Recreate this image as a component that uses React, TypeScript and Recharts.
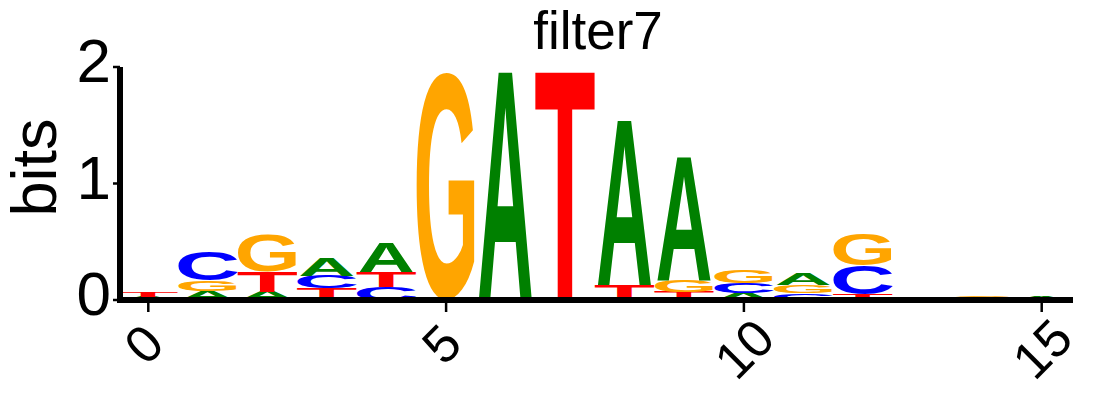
import React from 'react';
import { BarChart, Bar, XAxis, YAxis } from 'recharts';

// ---- data (information content in bits per letter, per position) ----
const positions = [0, 1, 2, 3, 4, 5, 6, 7, 8, 9, 10, 11, 12, 13, 14, 15];
const A_bits = [0.03, 0.08, 0.07, 0.155, 0.25, 0, 1.95, 0, 1.4, 1.05, 0.06, 0.1, 0, 0, 0, 0.03];
const C_bits = [0, 0.25, 0, 0.11, 0.11, 0, 0, 0, 0, 0, 0.086, 0.06, 0.25, 0, 0, 0];
const G_bits = [0, 0.085, 0.32, 0, 0, 1.95, 0, 0, 0, 0.1, 0.11, 0.07, 0.275, 0, 0.035, 0];
const T_bits = [0.04, 0, 0.17, 0.1, 0.13, 0, 0, 1.95, 0.13, 0.07, 0, 0, 0.05, 0, 0, 0];
const xTicks = [0, 5, 10, 15];
const yTicks = [0, 1, 2];
const title = 'filter7';
const yLabel = 'bits';

const LETTERS = ['A', 'C', 'G', 'T'];
const SERIES: Record<string, number[]> = { A: A_bits, C: C_bits, G: G_bits, T: T_bits };
const COLORS: Record<string, string> = { A: '#008000', C: '#0000FF', G: '#FFA500', T: '#FF0000' };

// approximate glyph ink boxes (Liberation Sans Bold, 2048 units/em)
const METRICS: Record<string, { xMin: number; xMax: number; yMin: number; yMax: number }> = {
  A: { xMin: 0, xMax: 1479, yMin: 0, yMax: 1409 },
  C: { xMin: 100, xMax: 1387, yMin: -22, yMax: 1431 },
  G: { xMin: 100, xMax: 1470, yMin: -22, yMax: 1431 },
  T: { xMin: 45, xMax: 1206, yMin: 0, yMax: 1409 },
};

// stack letters smallest at bottom
const rows = positions.map((p, i) => {
  const items = LETTERS.map((L) => ({ L, v: SERIES[L][i] })).sort((a, b) => a.v - b.v);
  const row: Record<string, any> = { pos: p };
  items.forEach((it, r) => {
    row['h' + r] = it.v;
    row['l' + r] = it.L;
  });
  return row;
});

const FONT = '"Liberation Sans", Arial, Helvetica, sans-serif';

function Letter(props: any) {
  const { x, y, width, height, letter } = props;
  if (!letter || !(height > 0.2) || !(width > 0)) return null;
  const m = METRICS[letter];
  const F = 100;
  const u = F / 2048;
  const inkW = (m.xMax - m.xMin) * u;
  const inkH = (m.yMax - m.yMin) * u;
  const sx = width / inkW;
  const sy = height / inkH;
  return (
    <g transform={`translate(${x},${y + height}) scale(${sx},${sy})`}>
      <text
        x={-m.xMin * u}
        y={m.yMin * u}
        fontSize={F}
        fontFamily={FONT}
        fontWeight="bold"
        fill={COLORS[letter]}
      >
        {letter}
      </text>
    </g>
  );
}

function XTick(props: any) {
  const { x, y, payload } = props;
  const label = String(payload.value);
  const cx = x + (label.length === 1 ? -5 : 0);
  const cy = y + (label.length === 1 ? 31.5 : 36.5);
  return (
    <text
      transform={`translate(${cx},${cy}) rotate(-45)`}
      textAnchor="middle"
      dy="0.358em"
      fontSize={52}
      fontFamily={FONT}
      fill="#000"
    >
      {label}
    </text>
  );
}

function YTick(props: any) {
  const { y, payload } = props;
  return (
    <text x={111} y={y + 15} textAnchor="end" fontSize={62} fontFamily={FONT} fill="#000">
      {String(payload.value)}
    </text>
  );
}

export default function App() {
  return (
    <div style={{ position: 'absolute', left: 0, top: 0, width: 1094, height: 408, background: '#fff' }}>
      <BarChart
        width={1094}
        height={408}
        data={rows}
        margin={{ top: 67, right: 24, bottom: 0, left: 0 }}
        barCategoryGap={0}
      >
        <XAxis
          type="number"
          dataKey="pos"
          domain={[-0.475, 15.475]}
          ticks={xTicks}
          allowDataOverflow
          interval={0}
          height={108}
          tickSize={12}
          tickMargin={0}
          axisLine={{ stroke: '#000', strokeWidth: 6, strokeLinecap: 'square' }}
          tickLine={{ stroke: '#000', strokeWidth: 2.5 }}
          tick={<XTick />}
        />
        <YAxis
          type="number"
          domain={[0, 2]}
          ticks={yTicks}
          allowDataOverflow
          width={120}
          tickSize={7}
          axisLine={{ stroke: '#000', strokeWidth: 6 }}
          tickLine={{ stroke: '#000', strokeWidth: 2.5 }}
          tick={<YTick />}
          label={{
            content: () => (
              <text
                transform="translate(56,167.5) rotate(-90)"
                textAnchor="middle"
                fontSize={63}
                fontFamily={FONT}
                fill="#000"
              >
                {yLabel}
              </text>
            ),
          }}
        />
        {[0, 1, 2, 3].map((r) => (
          <Bar
            key={r}
            dataKey={'h' + r}
            stackId="logo"
            barSize={57}
            isAnimationActive={false}
            shape={(p: any) => <Letter {...p} letter={p.payload ? p.payload['l' + r] : undefined} />}
          />
        ))}
      </BarChart>
      <svg
        width={1094}
        height={408}
        style={{ position: 'absolute', left: 0, top: 0, pointerEvents: 'none' }}
      >
        <text x={598} y={49} textAnchor="middle" fontSize={53} fontFamily={FONT} fill="#000">
          {title}
        </text>
      </svg>
    </div>
  );
}
